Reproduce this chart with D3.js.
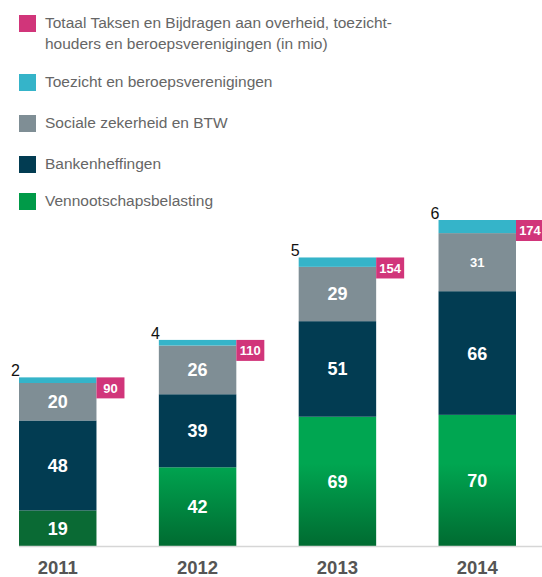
<!DOCTYPE html>
<html>
<head>
<meta charset="utf-8">
<script src="https://cdn.jsdelivr.net/npm/d3@7"></script>
<style>
  body { margin: 0; background: #fff; }
  svg { display: block; font-family: "Liberation Sans", Arial, sans-serif; }
</style>
</head>
<body>
<svg id="chart" width="542" height="577"></svg>
<script>
// years on the x axis
const YEARS = ["2011", "2012", "2013", "2014"];

// stacked series, bottom to top (in mio)
const VENNOOTSCHAP = [19, 42, 69, 70];
const BANKEN       = [48, 39, 51, 66];
const SOCIALE      = [20, 26, 29, 31];
const TOEZICHT     = [2, 4, 5, 6];

// totals shown in the pink tags
const TOTAAL = [90, 110, 154, 174];

const LEGEND = [
  ["Totaal Taksen en Bijdragen aan overheid, toezicht-", "houders en beroepsverenigingen (in mio)"],
  ["Toezicht en beroepsverenigingen"],
  ["Sociale zekerheid en BTW"],
  ["Bankenheffingen"],
  ["Vennootschapsbelasting"]
];

const PINK = "#d1357a", CYAN = "#35b4c9", GREY = "#7f8e95", NAVY = "#023c52";
const GREEN = "#009a48", GREEN_LIGHT = "#00a651", GREEN_DARK = "#006b31";

const svg = d3.select("#chart");

// ---- legend ----
const legendColors = [PINK, CYAN, GREY, NAVY, GREEN];
const legendBase = [28, 87, 128, 169, 206];
const lg = svg.append("g").selectAll("g").data(LEGEND).join("g")
    .attr("transform", (d, i) => `translate(0,${legendBase[i]})`);
lg.append("rect")
    .attr("x", 19).attr("y", -13).attr("width", 17).attr("height", 17)
    .attr("fill", (d, i) => legendColors[i]);
lg.append("text")
    .attr("x", 45).attr("font-size", 15.5).attr("fill", "#666")
    .selectAll("tspan").data(d => d).join("tspan")
    .attr("x", 45).attr("dy", (d, i) => i ? 21 : 0)
    .text(d => d);

// ---- scales ----
const x = d3.scaleBand().domain(YEARS).range([19, 516]).paddingInner(0.446).paddingOuter(0);
const y = d3.scaleLinear().domain([0, 174]).range([546, 220]);

// table for the stack
const rows = YEARS.map((yr, i) => ({
  year: yr, green: VENNOOTSCHAP[i], navy: BANKEN[i], grey: SOCIALE[i], cyan: TOEZICHT[i], total: TOTAAL[i]
}));
const keys = ["green", "navy", "grey", "cyan"];
const fills = { green: "url(#greenGrad)", navy: NAVY, grey: GREY, cyan: CYAN };
const series = d3.stack().keys(keys)(rows);

// green bars fade from bright to dark towards the baseline
const grad = svg.append("defs").append("linearGradient")
    .attr("id", "greenGrad").attr("gradientUnits", "userSpaceOnUse")
    .attr("x1", 0).attr("x2", 0).attr("y1", y(44)).attr("y2", y(0));
grad.append("stop").attr("offset", 0).attr("stop-color", GREEN_LIGHT);
grad.append("stop").attr("offset", 1).attr("stop-color", GREEN_DARK);

// the top (cyan) segment runs up to the rounded total
const segTop = d => d.key === "cyan" ? d.data.total : d[1];

const layers = svg.append("g").selectAll("g").data(series).join("g");
layers.selectAll("rect").data(s => s.map(d => Object.assign(d, { key: s.key }))).join("rect")
    .attr("x", d => x(d.data.year))
    .attr("width", x.bandwidth())
    .attr("y", d => y(segTop(d)))
    .attr("height", d => y(d[0]) - y(segTop(d)))
    .attr("fill", d => d.key === "green" && d.data.year === "2011" ? "#0a6a34" : fills[d.key]);

// values inside the segments (not the thin cyan one)
layers.filter(s => s.key !== "cyan").selectAll("text").data(s => s).join("text")
    .attr("x", d => x(d.data.year) + x.bandwidth() / 2)
    .attr("y", d => (y(d[0]) + y(d[1])) / 2)
    .attr("dy", "0.36em")
    .attr("text-anchor", "middle")
    .attr("font-weight", "bold")
    .attr("font-size", d => d.key === "grey" && d.data.year === "2014" ? 13 : 18)
    .attr("fill", "#fff")
    .text(d => d.data[d.key]);

// baseline
svg.append("line")
    .attr("x1", 19).attr("x2", 542).attr("y1", y(0) + 0.5).attr("y2", y(0) + 0.5)
    .attr("stroke", "#d6d6d6").attr("stroke-width", 1.5);

// cyan value above the bar, left corner
svg.append("g").selectAll("text").data(rows).join("text")
    .attr("x", d => x(d.year) + 1)
    .attr("y", d => y(d.total) - 1)
    .attr("text-anchor", "end")
    .attr("font-size", 16).attr("fill", "#111")
    .text(d => d.cyan);

// pink total tags
const tags = svg.append("g").selectAll("g").data(rows).join("g")
    .attr("transform", d => `translate(${x(d.year) + x.bandwidth()},${y(d.total)})`);
tags.append("rect").attr("width", 28).attr("height", 21).attr("fill", PINK);
tags.append("text")
    .attr("x", 14).attr("y", 10.5).attr("dy", "0.36em")
    .attr("text-anchor", "middle").attr("font-weight", "bold").attr("font-size", 13)
    .attr("fill", "#fff")
    .text(d => d.total);

// year labels
svg.append("g").selectAll("text").data(YEARS).join("text")
    .attr("x", d => x(d) + x.bandwidth() / 2)
    .attr("y", 574)
    .attr("text-anchor", "middle")
    .attr("font-weight", "bold").attr("font-size", 18.5).attr("fill", "#555")
    .text(d => d);
</script>
</body>
</html>
